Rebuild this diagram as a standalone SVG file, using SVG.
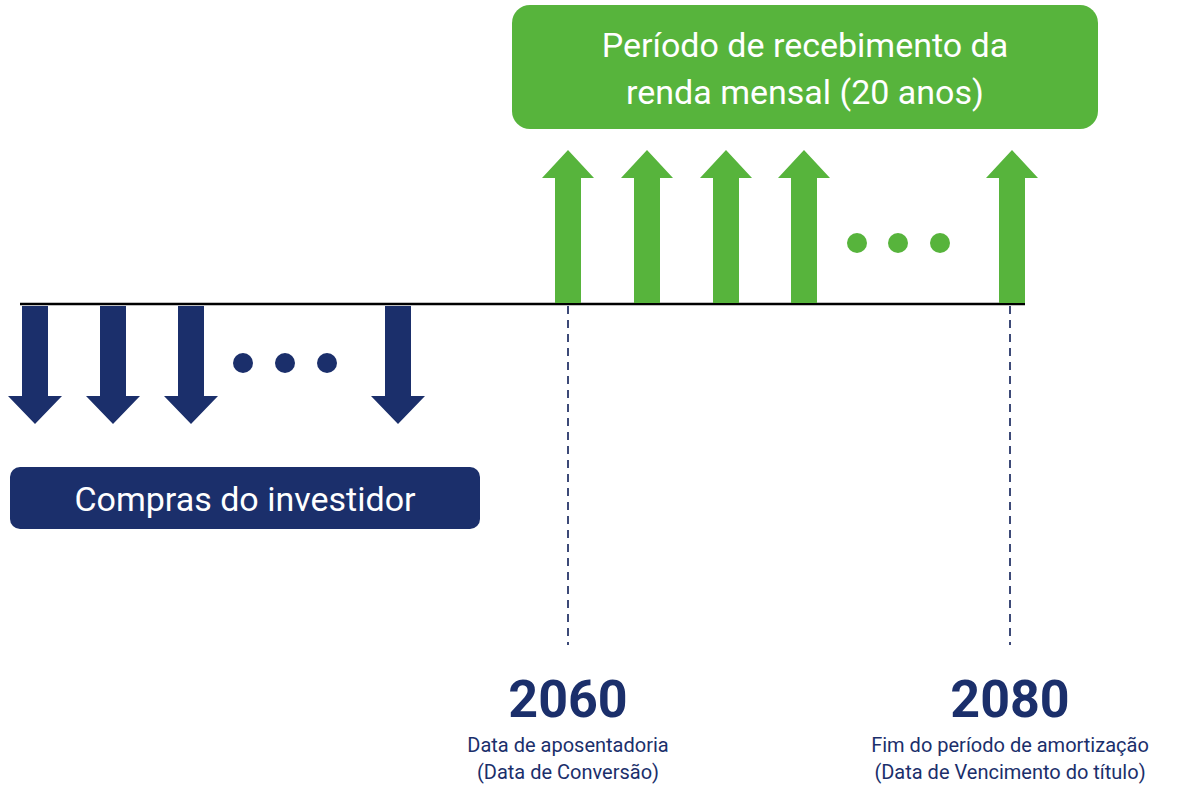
<svg xmlns="http://www.w3.org/2000/svg" width="1181" height="797" viewBox="0 0 1181 797">
<defs>
<style>
.g{fill:#57b43c}.b{fill:#1b2f6b}
.t{font-family:Roboto,"Liberation Sans",sans-serif;fill:#fff;text-anchor:middle}
.y{font-family:Roboto,"Liberation Sans",sans-serif;fill:#1b2f6b;font-weight:bold;font-size:52px;text-anchor:middle}
.s{font-family:Roboto,"Liberation Sans",sans-serif;fill:#1b2f6b;font-size:20px;text-anchor:middle}
.d{stroke:#3d4a78;stroke-width:2;stroke-dasharray:8 6}
</style>
<path id="up" d="M-13 0V-125H-26L0-153L26-125H13V0Z"/>
<path id="dn" d="M-13 0V116H-26L0 117L0 117Z"/>
<path id="down" d="M-13 0V90H-27L0 118L27 90H13V0Z"/>
</defs>
<g id="connectors">
<line x1="20" y1="304" x2="1025" y2="304" stroke="#000" stroke-width="2.5"/>
<line class="d" x1="568" y1="306" x2="568" y2="645"/>
<line class="d" x1="1010" y1="306" x2="1010" y2="645"/>
</g>
<g id="green-arrows" class="g">
<use href="#up" x="568" y="303"/><use href="#up" x="647" y="303"/><use href="#up" x="726" y="303"/><use href="#up" x="804" y="303"/><use href="#up" x="1012" y="303"/>
<circle cx="857" cy="243" r="10"/><circle cx="898" cy="243" r="10"/><circle cx="940" cy="243" r="10"/>
</g>
<g id="blue-arrows" class="b">
<use href="#down" x="35" y="306"/><use href="#down" x="113" y="306"/><use href="#down" x="191" y="306"/><use href="#down" x="398" y="306"/>
<circle cx="243" cy="363" r="10"/><circle cx="285" cy="363" r="10"/><circle cx="327" cy="363" r="10"/>
</g>
<g id="period">
<rect class="g" x="512" y="5" width="586" height="124" rx="18"/>
<text class="t" font-size="34" x="805" y="57">Período de recebimento da</text>
<text class="t" font-size="34" x="805" y="104">renda mensal (20 anos)</text>
</g>
<g id="compras">
<rect class="b" x="10" y="467" width="470" height="62" rx="10"/>
<text class="t" font-size="34" x="245" y="511">Compras do investidor</text>
</g>
<g id="y2060">
<text class="y" x="568" y="717">2060</text>
<text class="s" x="568" y="752">Data de aposentadoria</text>
<text class="s" x="568" y="779">(Data de Conversão)</text>
</g>
<g id="y2080">
<text class="y" x="1010" y="717">2080</text>
<text class="s" x="1010" y="752">Fim do período de amortização</text>
<text class="s" x="1010" y="779">(Data de Vencimento do título)</text>
</g>
</svg>
